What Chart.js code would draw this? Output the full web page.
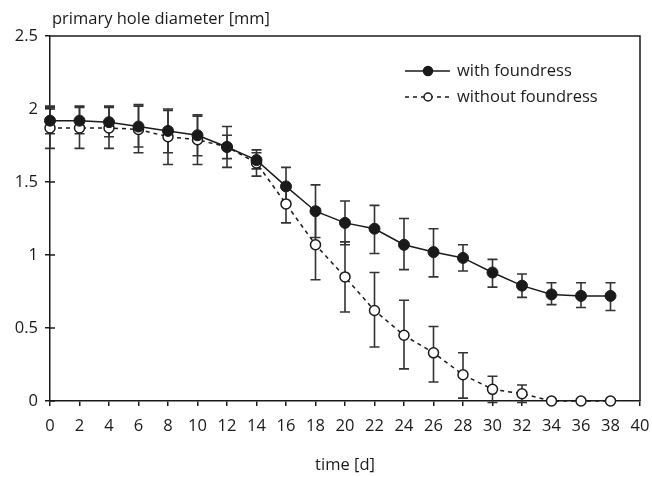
<!DOCTYPE html>
<html>
<head>
<meta charset="utf-8">
<script src="https://cdn.jsdelivr.net/npm/chart.js@4"></script>
<style>
  html, body { margin: 0; padding: 0; background: #fff; }
  #wrap { width: 652px; height: 477px; }
</style>
</head>
<body>
<div id="wrap"><canvas id="chart" width="652" height="477"></canvas></div>
<script>
// Data
const days = [0, 2, 4, 6, 8, 10, 12, 14, 16, 18, 20, 22, 24, 26, 28, 30, 32, 34, 36, 38];

const withMean = [1.92, 1.92, 1.91, 1.88, 1.85, 1.82, 1.74, 1.65, 1.47, 1.30, 1.22, 1.18, 1.07, 1.02, 0.98, 0.88, 0.79, 0.73, 0.72, 0.72];
const withLow  = [1.83, 1.83, 1.81, 1.74, 1.70, 1.68, 1.66, 1.59, 1.34, 1.12, 1.07, 1.01, 0.90, 0.85, 0.89, 0.78, 0.71, 0.66, 0.64, 0.62];
const withHigh = [2.02, 2.02, 2.02, 2.03, 2.00, 1.96, 1.82, 1.72, 1.60, 1.48, 1.37, 1.34, 1.25, 1.18, 1.07, 0.97, 0.87, 0.81, 0.81, 0.81];

const withoutMean = [1.87, 1.87, 1.87, 1.86, 1.81, 1.79, 1.74, 1.63, 1.35, 1.07, 0.85, 0.62, 0.45, 0.33, 0.18, 0.08, 0.05, 0, 0, 0];
const withoutLow  = [1.73, 1.73, 1.73, 1.70, 1.62, 1.62, 1.60, 1.54, 1.22, 0.83, 0.61, 0.37, 0.22, 0.13, 0.02, -0.01, -0.01, 0, 0, 0];
const withoutHigh = [2.01, 2.01, 2.01, 2.02, 1.99, 1.95, 1.88, 1.70, 1.48, 1.32, 1.09, 0.88, 0.69, 0.51, 0.33, 0.17, 0.11, 0, 0, 0];

const seriesLabels = ['with foundress', 'without foundress'];
const yTitle = 'primary hole diameter [mm]';
const xTitle = 'time [d]';

const FONT = "'Open Sans', 'DejaVu Sans', sans-serif";
const FONT_SIZE = 16.5;
const INK = '#1a1a1a';

function points(ys) {
  return days.map((d, i) => ({ x: d, y: ys[i] }));
}

// error bars, drawn through the chart scales
const errorBars = {
  id: 'errorBars',
  beforeDatasetsDraw(chart) {
    const ctx = chart.ctx;
    const xs = chart.scales.x, ys = chart.scales.y;
    const sets = [[withLow, withHigh], [withoutLow, withoutHigh]];
    ctx.save();
    ctx.strokeStyle = '#333';
    ctx.lineWidth = 1.6;
    sets.forEach(([lo, hi]) => {
      days.forEach((d, i) => {
        if (lo[i] === hi[i]) return;
        const px = xs.getPixelForValue(d);
        const y1 = ys.getPixelForValue(lo[i]);
        const y2 = ys.getPixelForValue(hi[i]);
        ctx.beginPath();
        ctx.moveTo(px, y1); ctx.lineTo(px, y2);
        ctx.moveTo(px - 5, y1); ctx.lineTo(px + 5, y1);
        ctx.moveTo(px - 5, y2); ctx.lineTo(px + 5, y2);
        ctx.stroke();
      });
    });
    ctx.restore();
  }
};

// frame, inner y ticks, y title and legend
const decorations = {
  id: 'decorations',
  afterDraw(chart) {
    const ctx = chart.ctx;
    const a = chart.chartArea;
    const ys = chart.scales.y;
    ctx.save();
    ctx.strokeStyle = INK;
    ctx.lineWidth = 1.5;
    ctx.beginPath();
    ctx.moveTo(a.left, a.top); ctx.lineTo(a.right, a.top); ctx.lineTo(a.right, a.bottom);
    ys.ticks.forEach(t => {
      const py = ys.getPixelForValue(t.value);
      ctx.moveTo(a.left, py); ctx.lineTo(a.left + 5, py);
    });
    ctx.stroke();

    ctx.fillStyle = INK;
    ctx.font = FONT_SIZE + 'px ' + FONT;
    ctx.textBaseline = 'middle';
    ctx.textAlign = 'left';
    ctx.fillText(yTitle, a.left + 2, 19);

    // legend
    const rows = [
      { y: 71, dash: [], fill: INK, r: 4.5 },
      { y: 97, dash: [4, 4], fill: '#fff', r: 4 }
    ];
    rows.forEach((row, k) => {
      ctx.setLineDash(row.dash);
      ctx.lineWidth = 1.5;
      ctx.strokeStyle = INK;
      ctx.beginPath();
      ctx.moveTo(405, row.y); ctx.lineTo(450, row.y);
      ctx.stroke();
      ctx.setLineDash([]);
      ctx.beginPath();
      ctx.arc(428, row.y, row.r, 0, Math.PI * 2);
      ctx.fillStyle = row.fill;
      ctx.fill();
      ctx.stroke();
      ctx.fillStyle = INK;
      ctx.fillText(seriesLabels[k], 457, row.y);
    });
    ctx.restore();
  }
};

new Chart(document.getElementById('chart'), {
  type: 'line',
  data: {
    datasets: [
      {
        label: seriesLabels[0],
        data: points(withMean),
        borderColor: INK,
        borderWidth: 1.5,
        backgroundColor: INK,
        pointBackgroundColor: INK,
        pointBorderColor: INK,
        pointRadius: 5.5,
        pointBorderWidth: 1,
        tension: 0,
        clip: false
      },
      {
        label: seriesLabels[1],
        data: points(withoutMean),
        borderColor: INK,
        borderWidth: 1.5,
        borderDash: [4, 4],
        pointBackgroundColor: '#fff',
        pointBorderColor: INK,
        pointRadius: 5,
        pointBorderWidth: 1.5,
        tension: 0,
        clip: false
      }
    ]
  },
  options: {
    responsive: false,
    animation: false,
    events: [],
    layout: { padding: { left: 8, right: 12, top: 36, bottom: 0 } },
    plugins: {
      legend: { display: false },
      tooltip: { enabled: false }
    },
    scales: {
      x: {
        type: 'linear',
        min: 0, max: 40,
        afterFit(scale) { scale.height = 76; scale.paddingLeft = 0; scale.paddingRight = 0; },
        border: { display: true, color: INK, width: 1.5 },
        grid: { drawOnChartArea: false, color: INK, lineWidth: 1.5, tickLength: 5 },
        ticks: { stepSize: 2, color: INK, font: { family: FONT, size: FONT_SIZE }, padding: 10, maxRotation: 0, autoSkip: false },
        title: { display: true, text: xTitle, color: INK, font: { family: FONT, size: FONT_SIZE }, padding: { top: 0, bottom: 2 } }
      },
      y: {
        type: 'linear',
        min: 0, max: 2.5,
        afterFit(scale) { scale.width = 42; scale.paddingTop = 0; scale.paddingBottom = 0; },
        border: { display: true, color: INK, width: 1.5 },
        grid: { drawOnChartArea: false, color: INK, lineWidth: 1.5, tickLength: 5 },
        ticks: {
          stepSize: 0.5, color: INK, font: { family: FONT, size: FONT_SIZE }, padding: 7,
          callback: v => String(v)
        }
      }
    }
  },
  plugins: [errorBars, decorations]
});
</script>
</body>
</html>
